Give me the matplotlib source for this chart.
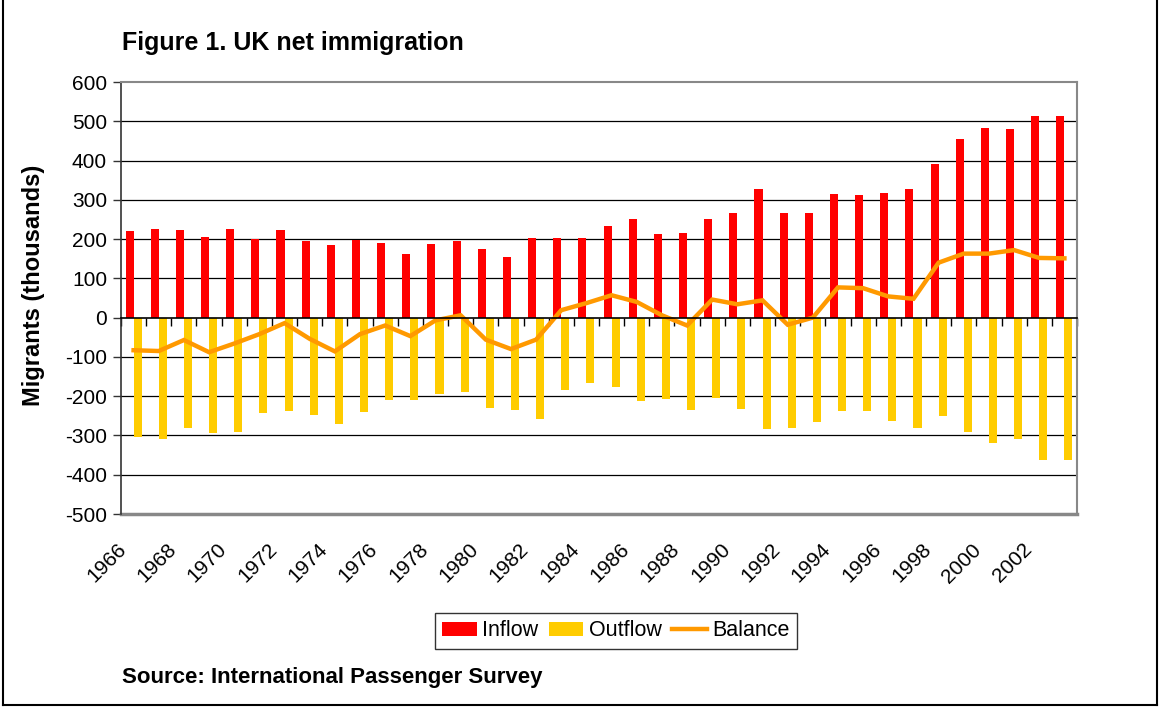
import matplotlib
matplotlib.use("Agg")
import matplotlib.pyplot as plt
from matplotlib.patches import Patch
from matplotlib.lines import Line2D
import numpy as np

plt.rcParams['font.family'] = ['Liberation Sans', 'DejaVu Sans']

# UK migration, thousands per year (International Passenger Survey)
years = list(range(1966, 2004))
inflow = [220, 225, 223, 205, 225, 200, 223, 195, 185, 198,
          190, 162, 187, 195, 174, 154, 203, 203, 203, 233,
          251, 213, 215, 251, 266, 328, 266, 266, 315, 312,
          317, 328, 391, 455, 483, 481, 514, 514]
outflow = [-303, -310, -280, -293, -291, -242, -237, -249, -271, -240,
           -210, -209, -194, -189, -230, -234, -259, -184, -166, -176,
           -211, -207, -235, -205, -232, -284, -281, -266, -238, -237,
           -263, -280, -251, -292, -320, -309, -362, -362]
balance = [-83, -85, -57, -88, -66, -42, -14, -54, -86, -42,
           -20, -47, -7, 6, -56, -80, -56, 19, 37, 57,
           40, 6, -20, 46, 34, 44, -18, 0, 77, 75,
           54, 48, 140, 163, 163, 172, 152, 151]
yticks = list(range(-500, 601, 100))

red = '#FF0000'
yellow = '#FFCC00'
orange = '#FF9900'

fig = plt.figure(figsize=(11.59, 7.07), dpi=100)
ax = fig.add_axes([121 / 1159, 1 - 514 / 707, 956 / 1159, 432 / 707])

x = np.arange(len(years))
w = 0.32
ax.bar(x - w / 2, inflow, width=w, color=red, zorder=3)
ax.bar(x + w / 2, outflow, width=w, color=yellow, zorder=3)
ax.plot(x, balance, color=orange, lw=3.2, zorder=4, solid_joinstyle='miter')

ax.set_xlim(-0.5, len(years) - 0.5)
ax.set_ylim(-500, 600)
ax.set_yticks(yticks)
ax.set_yticklabels([str(v) for v in yticks], fontsize=15)
ax.tick_params(axis='y', direction='out', length=6, width=1, color='#333333', pad=4)

# category axis sits on the zero line, ticks between categories
ax.spines['bottom'].set_position(('data', 0))
ax.spines['bottom'].set_color('black')
ax.spines['bottom'].set_linewidth(1.2)
ax.spines['bottom'].set_zorder(5)
ax.set_xticks(np.arange(len(years) + 1) - 0.5)
ax.set_xticklabels([])
ax.tick_params(axis='x', direction='out', length=6, width=1, color='black')

ax.spines['left'].set_color('#333333')
ax.spines['left'].set_linewidth(1.2)
for s in ('top', 'right'):
    ax.spines[s].set_color('#888888')
    ax.spines[s].set_linewidth(1.5)
ax.axhline(-500, color='#888888', lw=2.5, zorder=2, clip_on=False)

for v in yticks[1:-1]:
    if v != 0:
        ax.axhline(v, color='black', lw=0.9, zorder=1)

# year labels every second year, rotated below the plot area
for i, yr in enumerate(years):
    if yr % 2 == 0:
        ax.text(i - 0.68, -0.06, str(yr), transform=ax.get_xaxis_transform(),
                rotation=45, ha='right', va='top', rotation_mode='anchor',
                fontsize=15)

ax.set_ylabel('Migrants (thousands)', fontsize=17, fontweight='bold')
ax.yaxis.set_label_coords(-0.08, 0.53)

fig.text(122 / 1159, 1 - 43 / 707, 'Figure 1. UK net immigration',
         fontsize=18, fontweight='bold', va='center', ha='left')
fig.text(122 / 1159, 1 - 678 / 707, 'Source: International Passenger Survey',
         fontsize=16, fontweight='bold', va='center', ha='left')

handles = [Patch(facecolor=red, edgecolor='none'),
           Patch(facecolor=yellow, edgecolor='none'),
           Line2D([0], [0], color=orange, lw=3.2)]
leg = fig.legend(handles, ['Inflow', 'Outflow', 'Balance'], ncol=3,
                 loc='center', bbox_to_anchor=(616 / 1159, 1 - 631 / 707),
                 fontsize=15.5, frameon=True, fancybox=False,
                 handlelength=1.6, handleheight=0.62, handletextpad=0.25,
                 columnspacing=0.5, borderpad=0.35, borderaxespad=0)
leg.get_frame().set_edgecolor('black')
leg.get_frame().set_linewidth(1.0)

# outer frame of the figure
for xs, ys in [((3, 3), (0, 705)), ((1157, 1157), (0, 705)), ((3, 1157), (705, 705))]:
    fig.add_artist(Line2D([v / 1159 for v in xs], [1 - v / 707 for v in ys],
                          color='black', lw=1.5))

fig.savefig('out.png', dpi=100)
